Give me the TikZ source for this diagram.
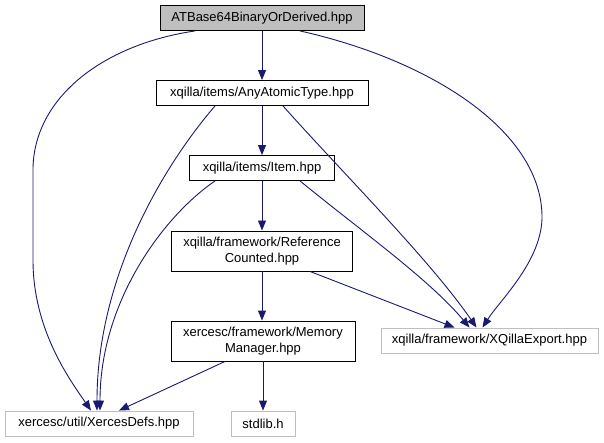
\documentclass[tikz,border=0pt]{standalone}
\usepackage{fontspec}
\setmainfont{Liberation Sans}
\usetikzlibrary{arrows.meta}
\definecolor{edgeblue}{HTML}{191970}
\definecolor{boxgray}{HTML}{BFBFBF}

\begin{document}
\begin{tikzpicture}[
    x=1pt, y=-1pt,
    every node/.style={font=\fontsize{13}{15.5}\selectfont, inner sep=0pt, align=center},
    file/.style={rectangle, draw=black, line width=0.9pt, minimum height=25pt},
    filetwo/.style={rectangle, draw=black, line width=0.9pt, minimum height=40pt},
    extern/.style={rectangle, draw=boxgray, line width=0.9pt, minimum height=25pt},
    current/.style={rectangle, draw=black, fill=boxgray, line width=0.9pt, minimum height=25pt},
    arrow/.style={-{Triangle[length=10pt,width=8pt]}, edgeblue, line width=0.9pt}
]
\useasboundingbox (0,0) rectangle (604,443);

% Current file
\node[current, minimum width=204pt] (top) at (262,18) {ATBase64BinaryOrDerived.hpp};

% AnyAtomicType
\node[file, minimum width=212pt] (any) at (262,93) {xqilla/items/AnyAtomicType.hpp};

% Item
\node[file, minimum width=145pt] (item) at (262,168) {xqilla/items/Item.hpp};

% ReferenceCounted
\node[filetwo, minimum width=181pt] (ref) at (262,251) {xqilla/framework/Reference\\Counted.hpp};

% MemoryManager
\node[filetwo, minimum width=184pt] (mem) at (263,341) {xercesc/framework/Memory\\Manager.hpp};

% External headers
\node[extern, minimum width=217pt] (xqexp) at (489.5,340.5) {xqilla/framework/XQillaExport.hpp};
\node[extern, minimum width=188pt] (xdefs) at (99,423.5) {xercesc/util/XercesDefs.hpp};
\node[extern, minimum width=64pt] (stdlib) at (263,423.5) {stdlib.h};

% Arrows - Main column
\draw[arrow] (top) -- (any);
\draw[arrow] (any) -- (item);
\draw[arrow] (item) -- (ref);
\draw[arrow] (ref) -- (ref |- mem.north);
\draw[arrow] (mem) -- (stdlib);

% Arrows - XercesDefs
\draw[arrow] ([xshift=-67pt]top.south) .. controls (100,45) and (33,100) .. (33,170)
    -- (33,260) .. controls (33,330) and (70,380) .. ([xshift=-8pt]xdefs.north);
\draw[arrow] ([xshift=-47pt]any.south) .. controls (160,170) and (97,280) .. ([xshift=-2pt]xdefs.north);
\draw[arrow] ([xshift=-47pt]item.south) .. controls (165,215) and (100,300) .. ([xshift=1pt]xdefs.north);
\draw[arrow] ([xshift=-38pt]mem.south) -- ([xshift=20pt]xdefs.north);

% Arrows - XQillaExport
\draw[arrow] ([xshift=38pt]top.south) .. controls (430,60) and (540,130) .. (542,215)
    .. controls (543,260) and (500,300) .. ([xshift=-7pt]xqexp.north);
\draw[arrow] ([xshift=21pt]any.south) .. controls (340,170) and (430,260) .. ([xshift=-13pt]xqexp.north);
\draw[arrow] ([xshift=38pt]item.south) .. controls (360,230) and (430,280) .. ([xshift=-20pt]xqexp.north);
\draw[arrow] ([xshift=48pt]ref.south) -- ([xshift=-35pt]xqexp.north);

\end{tikzpicture}
\end{document}
